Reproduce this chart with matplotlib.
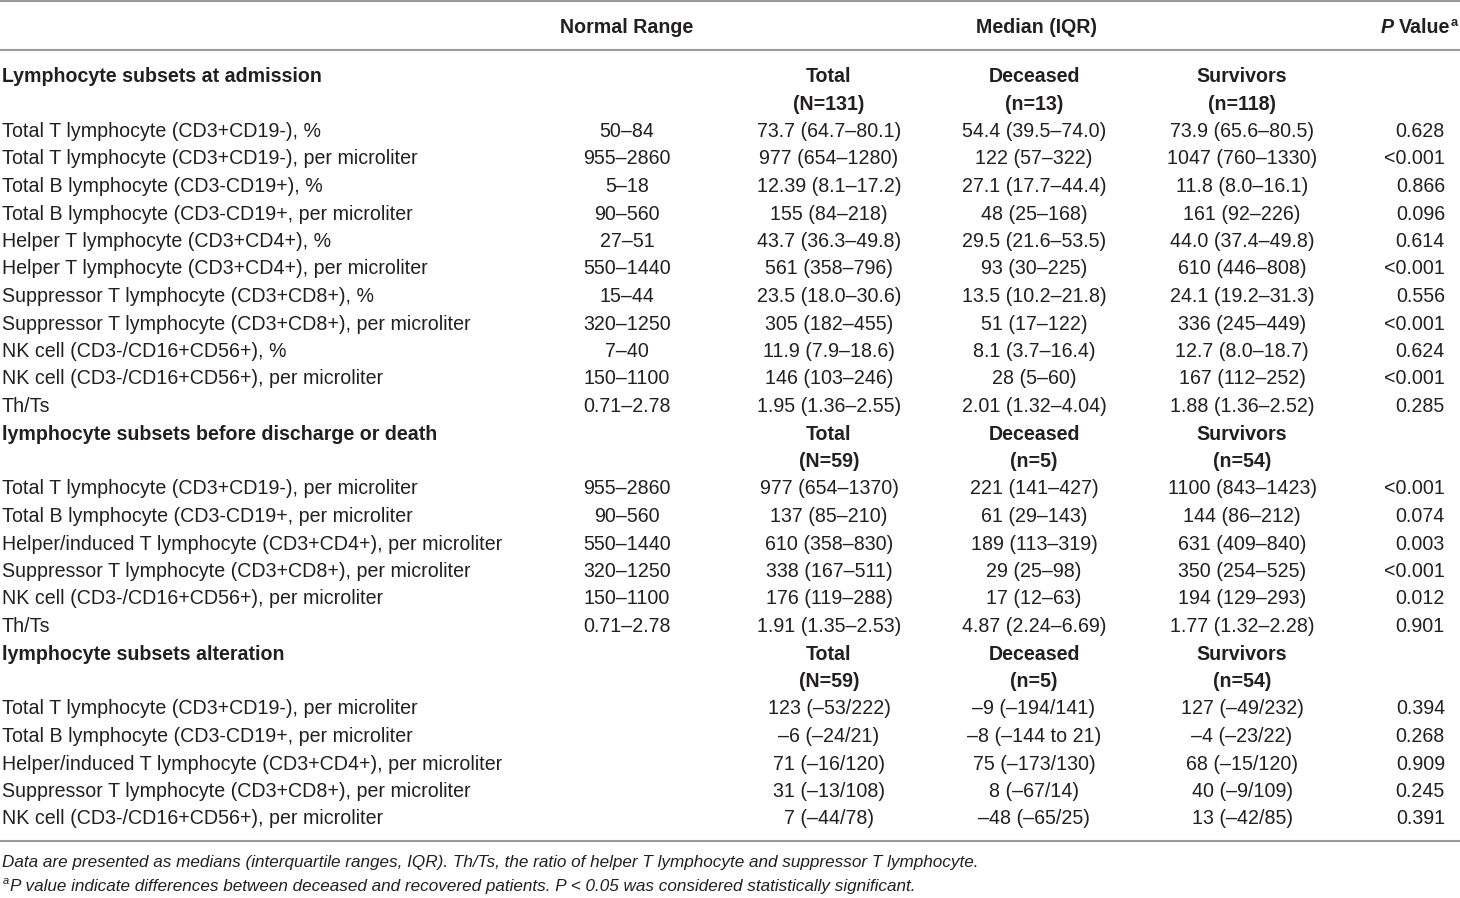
import matplotlib
matplotlib.use('Agg')
import matplotlib.pyplot as plt

plt.rcParams['font.family'] = ['Liberation Sans Narrow', 'Liberation Sans', 'DejaVu Sans']

# table content
sections = [
    'Lymphocyte subsets at admission',
    'lymphocyte subsets before discharge or death',
    'lymphocyte subsets alteration',
]
group_counts = [
    ('(N=131)', '(n=13)', '(n=118)'),
    ('(N=59)', '(n=5)', '(n=54)'),
    ('(N=59)', '(n=5)', '(n=54)'),
]
labels_1 = [
    'Total T lymphocyte (CD3+CD19-), %',
    'Total T lymphocyte (CD3+CD19-), per microliter',
    'Total B lymphocyte (CD3-CD19+), %',
    'Total B lymphocyte (CD3-CD19+, per microliter',
    'Helper T lymphocyte (CD3+CD4+), %',
    'Helper T lymphocyte (CD3+CD4+), per microliter',
    'Suppressor T lymphocyte (CD3+CD8+), %',
    'Suppressor T lymphocyte (CD3+CD8+), per microliter',
    'NK cell (CD3-/CD16+CD56+), %',
    'NK cell (CD3-/CD16+CD56+), per microliter',
    'Th/Ts',
]
normal_1 = ['50–84', '955–2860', '5–18', '90–560', '27–51', '550–1440',
            '15–44', '320–1250', '7–40', '150–1100', '0.71–2.78']
total_1 = ['73.7 (64.7–80.1)', '977 (654–1280)', '12.39 (8.1–17.2)', '155 (84–218)',
           '43.7 (36.3–49.8)', '561 (358–796)', '23.5 (18.0–30.6)', '305 (182–455)',
           '11.9 (7.9–18.6)', '146 (103–246)', '1.95 (1.36–2.55)']
deceased_1 = ['54.4 (39.5–74.0)', '122 (57–322)', '27.1 (17.7–44.4)', '48 (25–168)',
              '29.5 (21.6–53.5)', '93 (30–225)', '13.5 (10.2–21.8)', '51 (17–122)',
              '8.1 (3.7–16.4)', '28 (5–60)', '2.01 (1.32–4.04)']
survivors_1 = ['73.9 (65.6–80.5)', '1047 (760–1330)', '11.8 (8.0–16.1)', '161 (92–226)',
               '44.0 (37.4–49.8)', '610 (446–808)', '24.1 (19.2–31.3)', '336 (245–449)',
               '12.7 (8.0–18.7)', '167 (112–252)', '1.88 (1.36–2.52)']
pval_1 = ['0.628', '<0.001', '0.866', '0.096', '0.614', '<0.001', '0.556', '<0.001',
          '0.624', '<0.001', '0.285']

labels_2 = [
    'Total T lymphocyte (CD3+CD19-), per microliter',
    'Total B lymphocyte (CD3-CD19+, per microliter',
    'Helper/induced T lymphocyte (CD3+CD4+), per microliter',
    'Suppressor T lymphocyte (CD3+CD8+), per microliter',
    'NK cell (CD3-/CD16+CD56+), per microliter',
    'Th/Ts',
]
normal_2 = ['955–2860', '90–560', '550–1440', '320–1250', '150–1100', '0.71–2.78']
total_2 = ['977 (654–1370)', '137 (85–210)', '610 (358–830)', '338 (167–511)',
           '176 (119–288)', '1.91 (1.35–2.53)']
deceased_2 = ['221 (141–427)', '61 (29–143)', '189 (113–319)', '29 (25–98)',
              '17 (12–63)', '4.87 (2.24–6.69)']
survivors_2 = ['1100 (843–1423)', '144 (86–212)', '631 (409–840)', '350 (254–525)',
               '194 (129–293)', '1.77 (1.32–2.28)']
pval_2 = ['<0.001', '0.074', '0.003', '<0.001', '0.012', '0.901']

labels_3 = [
    'Total T lymphocyte (CD3+CD19-), per microliter',
    'Total B lymphocyte (CD3-CD19+, per microliter',
    'Helper/induced T lymphocyte (CD3+CD4+), per microliter',
    'Suppressor T lymphocyte (CD3+CD8+), per microliter',
    'NK cell (CD3-/CD16+CD56+), per microliter',
]
normal_3 = ['', '', '', '', '']
total_3 = ['123 (–53/222)', '–6 (–24/21)', '71 (–16/120)', '31 (–13/108)', '7 (–44/78)']
deceased_3 = ['–9 (–194/141)', '–8 (–144 to 21)', '75 (–173/130)', '8 (–67/14)',
              '–48 (–65/25)']
survivors_3 = ['127 (–49/232)', '–4 (–23/22)', '68 (–15/120)', '40 (–9/109)',
               '13 (–42/85)']
pval_3 = ['0.394', '0.268', '0.909', '0.245', '0.391']

footnote_1 = ('Data are presented as medians (interquartile ranges, IQR). '
              'Th/Ts, the ratio of helper T lymphocyte and suppressor T lymphocyte.')
footnote_2 = ('P value indicate differences between deceased and recovered patients. '
              'P < 0.05 was considered statistically significant.')

blocks = [
    (labels_1, normal_1, total_1, deceased_1, survivors_1, pval_1),
    (labels_2, normal_2, total_2, deceased_2, survivors_2, pval_2),
    (labels_3, normal_3, total_3, deceased_3, survivors_3, pval_3),
]

W, H = 1460, 898
fig = plt.figure(figsize=(W / 100, H / 100), dpi=100)
ax = fig.add_axes([0, 0, 1, 1])
ax.set_xlim(0, W)
ax.set_ylim(H, 0)
ax.axis('off')

txt = '#231f20'
fs = 14.1
x_label, x_norm, x_tot, x_dec, x_surv, x_p = 2, 627, 829, 1034, 1242, 1445
step = 27.5
y0 = 76
bl = 6  # row centre -> text baseline


def cell(x, y, s, ha='center', **kw):
    return ax.text(x, y + bl, s, ha=ha, va='baseline', fontsize=fs, color=txt, **kw)


# rules
for y in (1, 50, 841):
    ax.axhline(y, color='#9a9a9a', linewidth=1.5)

# column header
cell(x_norm, 27, 'Normal Range', fontweight='bold')
cell(1037, 27, 'Median (IQR)', fontweight='bold')
val = cell(1450, 27, 'Value', ha='right', fontweight='bold')
ax.annotate('P ', xy=(0, 0), xycoords=val, xytext=(0, 0),
            textcoords='offset pixels', ha='right', va='bottom',
            fontsize=fs, fontweight='bold', fontstyle='italic', color=txt)
ax.annotate('a', xy=(1, 0), xycoords=val, xytext=(1, 8),
            textcoords='offset pixels', ha='left', va='bottom',
            fontsize=fs * 0.65, fontweight='bold', color=txt)

k = 0
for (title, counts, block) in zip(sections, group_counts, blocks):
    y = y0 + k * step
    cell(x_label, y, title, ha='left', fontweight='bold')
    for x, head in zip((x_tot, x_dec, x_surv), ('Total', 'Deceased', 'Survivors')):
        cell(x, y, head, fontweight='bold')
    k += 1
    y = y0 + k * step
    for x, c in zip((x_tot, x_dec, x_surv), counts):
        cell(x, y, c, fontweight='bold')
    k += 1
    labels, normal, total, deceased, survivors, pval = block
    for i in range(len(labels)):
        y = y0 + k * step
        cell(x_label, y, labels[i], ha='left')
        cell(x_norm, y, normal[i])
        cell(x_tot, y, total[i])
        cell(x_dec, y, deceased[i])
        cell(x_surv, y, survivors[i])
        cell(x_p, y, pval[i], ha='right')
        k += 1

fn_fs = 12.3
ax.text(x_label, 867, footnote_1, ha='left', va='baseline', fontsize=fn_fs,
        fontstyle='italic', color=txt)
ax.text(x_label + 1, 884, 'a', ha='left', va='baseline', fontsize=fn_fs * 0.65,
        fontstyle='italic', color=txt)
ax.text(x_label + 8, 891, footnote_2, ha='left', va='baseline', fontsize=fn_fs,
        fontstyle='italic', color=txt)

fig.savefig('out.png', dpi=100, facecolor='white')
